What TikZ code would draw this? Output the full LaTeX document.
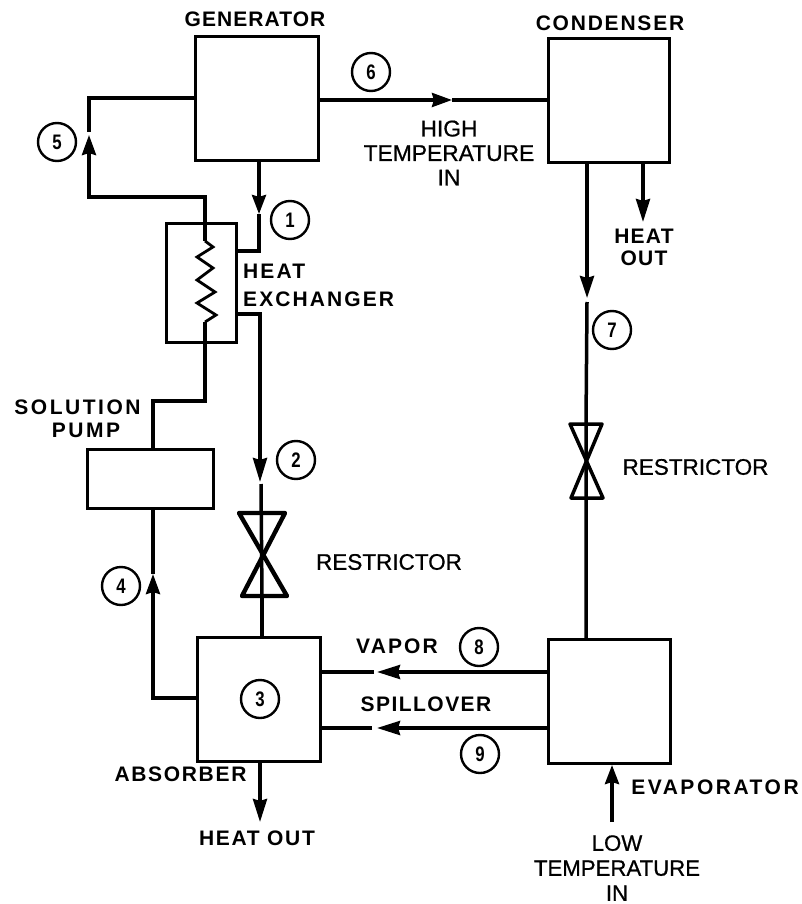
\documentclass[tikz,border=0pt]{standalone}
\usepackage{fontspec}
\usepackage{graphicx}
\setmainfont{Liberation Sans}
\usetikzlibrary{arrows.meta}
\newcommand\dg[1]{\scalebox{0.8}[1]{#1}}
\tikzset{
  x=1pt,y=-1pt,
  unit/.style 2 args={draw=black,line width=3pt,minimum width=#1,minimum height=#2,inner sep=0pt,outer sep=0pt},
  ln/.style={draw=black,line width=3.5pt,line join=miter},
  arr/.style={ln,-{Stealth[length=#1,width=14pt,inset=2pt]}},
  arr/.default=22pt,
  num/.style={circle,draw=black,line width=2.4pt,minimum size=38pt,inner sep=0pt,font=\fontsize{21}{21}\selectfont\bfseries},
  lab/.style 2 args={font=\fontsize{21}{#2}\selectfont\bfseries\addfontfeature{LetterSpace=#1},align=center,inner sep=0pt,text=black},
  reg/.style 2 args={font=\fontsize{#1}{#2}\selectfont\addfontfeature{FakeBold=0.7},align=center,inner sep=0pt,text=black},
}
\begin{document}
\begin{tikzpicture}
\useasboundingbox (0,0) rectangle (802,904);
\fill[white] (0,0) rectangle (802,904);
% units
\node[unit={123pt}{124pt}] (gen) at (256.5,99) {};
\node[unit={121pt}{124pt}] (cond) at (608.5,101) {};
\node[unit={70pt}{119pt}] (hx) at (201,282.5) {};
\node[unit={126pt}{59pt}] (pump) at (150,478.5) {};
\node[unit={123pt}{124pt}] (abs) at (258.5,699) {};
\node[unit={122pt}{124pt}] (evap) at (609,701) {};
% restrictors
\coordinate (r1t) at (262,512); \coordinate (r1b) at (262,597);
\coordinate (r2t) at (586,424); \coordinate (r2b) at (586,498);
\draw[ln,line width=4.4pt,line join=round] (239,513) -- (285,513) -- (242,596) -- (287,596) -- cycle;
\draw[ln,line join=round] (570,424) -- (602,424) -- (571,498) -- (603,498) -- cycle;
% circuit coordinates
\coordinate (a5) at (89,98); \coordinate (b5) at (89,197); \coordinate (c5) at (205,197);
\coordinate (t5) at (89,135); \coordinate (g5) at (89,132);
\coordinate (coilt) at (205,241); \coordinate (coilb) at (205,322);
\coordinate (p1) at (205,401); \coordinate (p2) at (153,401);
\coordinate (t1) at (259,214); \coordinate (e1) at (259,251);
\coordinate (e2) at (260,314); \coordinate (t2) at (260,482); \coordinate (g2) at (261,484);
\coordinate (t4) at (153,574); \coordinate (e4) at (153,698);
\coordinate (t6) at (452,100);
\coordinate (t7) at (587,298); \coordinate (g7) at (587,302);
\coordinate (t8) at (377,672); \coordinate (g8) at (374,672);
\coordinate (t9) at (377,728); \coordinate (g9) at (372,728);
% loop from heat exchanger coil up to generator
\draw[arr=20pt] (coilt) -- (c5) -- (b5) -- (t5);
\draw[ln] (gen.west |- a5) -- (a5) -- (g5);
\draw[draw=black,line width=2.8pt,line join=miter] (coilt) -- (213,247) -- (197,257) -- (213,268) -- (197,280) -- (215,292) -- (197,303) -- (216,315) -- (coilb);
\draw[ln] (coilb) -- (p1) -- (p2) -- (pump.north -| p2);
% pump to absorber
\draw[arr=20pt] (abs.west |- e4) -- (e4) -- (t4);
\draw[ln] (t4) -- (pump.south -| t4);
% 1
\draw[arr=19pt] (gen.south -| t1) -- (t1);
\draw[ln] (t1) -- (e1) -- (hx.east |- e1);
% 2
\draw[arr=24pt] (hx.east |- e2) -- (e2) -- (t2);
\draw[ln] (g2) -- (r1b);
\draw[ln] (r1b) -- (abs.north -| r1b);
% 6
\draw[arr=20pt] (gen.east |- t6) -- (t6);
\draw[ln] (t6) -- (cond.west |- t6);
% 7
\draw[arr=22pt] (cond.south -| t7) -- (t7);
\draw[ln] (g7) -- (r2t) -- (r2b) -- (evap.north -| r2b);
% heat out condenser
\coordinate (hoc) at (643,222);
\draw[arr=23pt] (cond.south -| hoc) -- (hoc);
% 8, 9
\draw[arr=23pt] (evap.west |- t8) -- (t8);
\draw[ln] (g8) -- (abs.east |- g8);
\draw[arr=23pt] (evap.west |- t9) -- (t9);
\draw[ln] (g9) -- (abs.east |- g9);
% heat out absorber
\coordinate (hoa) at (260,822);
\draw[arr=23pt] (abs.south -| hoa) -- (hoa);
% low temp in
\coordinate (lts) at (612,822); \coordinate (ltt) at (612,765);
\draw[arr=19pt] (lts) -- (ltt);
% numbers
\node[num] (n1) at (290,220) {\dg{1}};
\node[num] (n2) at (296,460) {\dg{2}};
\node[num] (n3) at (260,699) {\dg{3}};
\node[num] (n4) at (121,586) {\dg{4}};
\node[num] (n5) at (57,142) {\dg{5}};
\node[num] (n6) at (371,72) {\dg{6}};
\node[num] (n7) at (612,330) {\dg{7}};
\node[num] (n8) at (479,647) {\dg{8}};
\node[num] (n9) at (480,754) {\dg{9}};
% labels
\node[lab={5}{24}] (lgen) at (255,19) {GENERATOR};
\node[lab={8.5}{24}] (lcond) at (610,23) {CONDENSER};
\node[reg={22.8}{24.5}] (lhigh) at (449,153) {HIGH\\TEMPERATURE\\IN};
\node[lab={6}{22}] (lhoc) at (644,247) {HEAT\\OUT};
\node[lab={10}{28},align=left,anchor=west] (lhx) at (243,285) {HEAT\\EXCHANGER};
\node[lab={12}{23}] (lpump) at (77.5,418.5) {SOLUTION\\\hspace{17pt}PUMP};
\node[reg={22.5}{24}] (lr1) at (389,562) {RESTRICTOR};
\node[reg={22.5}{24}] (lr2) at (695.5,467) {RESTRICTOR};
\node[lab={10}{24}] (lvap) at (397,646) {VAPOR};
\node[lab={7}{24}] (lspill) at (426,704) {SPILLOVER};
\node[lab={8}{24}] (labs) at (180.5,774) {ABSORBER};
\node[lab={8}{24}] (lhoa) at (257,838) {HEAT OUT};
\node[lab={12}{24}] (levap) at (715,787) {EVAPORATOR};
\node[reg={22.2}{25}] (llow) at (617,868) {LOW\\TEMPERATURE\\IN};
\end{tikzpicture}
\end{document}
